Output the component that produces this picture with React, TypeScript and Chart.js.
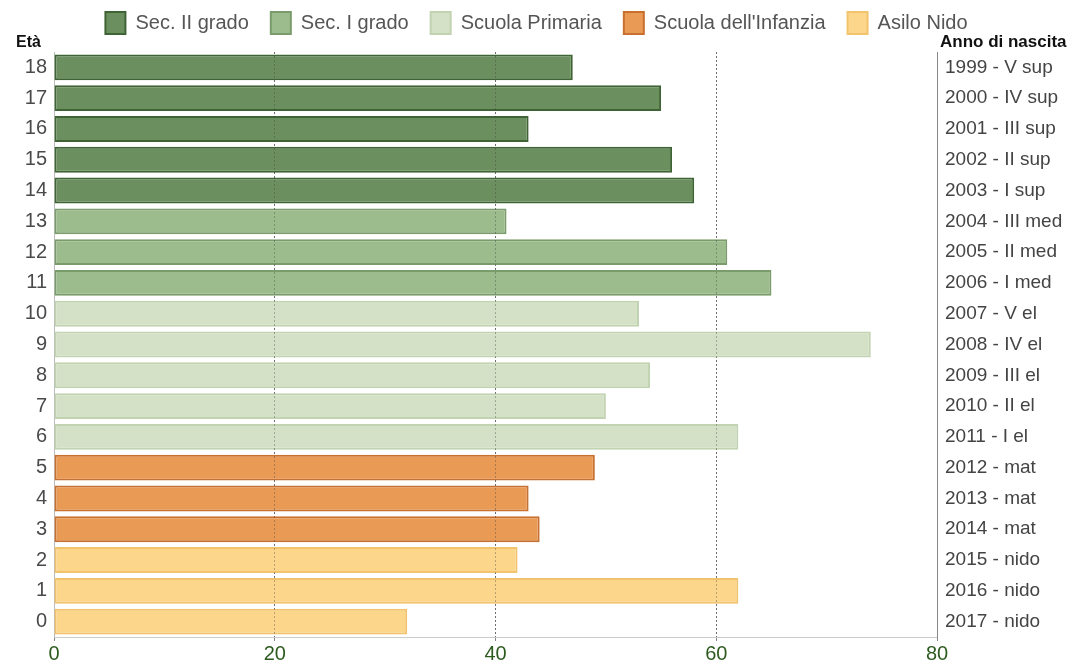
import React, { useEffect, useRef } from "react";
import { Chart, registerables } from "chart.js";

Chart.register(...registerables);

const ages = ["18", "17", "16", "15", "14", "13", "12", "11", "10", "9", "8", "7", "6", "5", "4", "3", "2", "1", "0"];
const birthLabels = [
  "1999 - V sup", "2000 - IV sup", "2001 - III sup", "2002 - II sup", "2003 - I sup",
  "2004 - III med", "2005 - II med", "2006 - I med",
  "2007 - V el", "2008 - IV el", "2009 - III el", "2010 - II el", "2011 - I el",
  "2012 - mat", "2013 - mat", "2014 - mat",
  "2015 - nido", "2016 - nido", "2017 - nido",
];
const values = [47, 55, 43, 56, 58, 41, 61, 65, 53, 74, 54, 50, 62, 49, 43, 44, 42, 62, 32];
// index into groupNames for each age row
const groupOf = [0, 0, 0, 0, 0, 1, 1, 1, 2, 2, 2, 2, 2, 3, 3, 3, 4, 4, 4];
const groupNames = ["Sec. II grado", "Sec. I grado", "Scuola Primaria", "Scuola dell'Infanzia", "Asilo Nido"];
const groupFill = ["#6c8f5f", "#9dbc8e", "#d4e1c7", "#e99a55", "#fcd68b"];
const groupBorder = ["#3e6334", "#7a9c6b", "#c2d3b2", "#c8702f", "#f1c36c"];
const xTicks = [0, 20, 40, 60, 80];

const FONT = "'Liberation Sans', Arial, sans-serif";

const titlesPlugin = {
  id: "axisTitles",
  beforeLayout(chart: any) {
    const lg = chart.legend;
    if (lg && !lg.__patched) {
      const orig = lg.fit;
      lg.fit = function (this: any) {
        orig.call(this);
        this.height = 62;
      };
      lg.__patched = true;
    }
  },
  afterDatasetsDraw(chart: any) {
    const { ctx, chartArea } = chart;
    const xs = chart.scales.x;
    ctx.save();
    ctx.strokeStyle = "rgba(60,60,60,0.35)";
    ctx.lineWidth = 1;
    ctx.setLineDash([2, 2]);
    xTicks.slice(1, -1).forEach((v) => {
      const px = Math.round(xs.getPixelForValue(v) - 0.5) + 0.5;
      ctx.beginPath();
      ctx.moveTo(px, chartArea.top);
      ctx.lineTo(px, chartArea.bottom);
      ctx.stroke();
    });
    ctx.restore();
  },
  afterDraw(chart: any) {
    const { ctx, chartArea } = chart;
    ctx.save();
    ctx.fillStyle = "#111";
    ctx.textBaseline = "alphabetic";
    ctx.font = `bold 16px ${FONT}`;
    ctx.textAlign = "left";
    ctx.fillText("Età", 16, chartArea.top - 5);
    ctx.font = `bold 17px ${FONT}`;
    ctx.fillText("Anno di nascita", chartArea.right + 3, chartArea.top - 5);
    ctx.restore();
  },
};

export default function App() {
  const ref = useRef<HTMLCanvasElement>(null);
  useEffect(() => {
    if (!ref.current) return;
    const datasets = groupNames.map((name, g) => ({
      label: name,
      data: values.map((v, i) => (groupOf[i] === g ? v : null)),
      backgroundColor: groupFill[g],
      borderColor: groupBorder[g],
      borderWidth: 2,
      borderSkipped: false,
      categoryPercentage: 0.84,
      barPercentage: 1,
      yAxisID: "y",
    }));
    const chart = new Chart(ref.current, {
      type: "bar",
      data: { labels: ages, datasets },
      plugins: [titlesPlugin],
      options: {
        indexAxis: "y",
        animation: false,
        responsive: false,
        maintainAspectRatio: false,
        layout: { padding: { top: -10, right: 0, left: 0, bottom: 0 } },
        plugins: {
          tooltip: { enabled: false },
          legend: {
            position: "top",
            labels: {
              boxWidth: 20,
              boxHeight: 22,
              padding: 22,
              color: "#555",
              font: { family: FONT, size: 20 },
            },
          },
        },
        scales: {
          x: {
            stacked: true,
            min: 0,
            max: 80,
            afterBuildTicks: (s: any) => {
              s.ticks = xTicks.map((v) => ({ value: v }));
            },
            afterFit: (s: any) => {
              s.height = 29;
            },
            ticks: { color: "#2d5a1e", font: { family: FONT, size: 20 }, padding: 1 },
            grid: { color: "#888", lineWidth: 1, tickLength: 4, drawTicks: true },
            border: { display: true, color: "#ccc", dash: [2, 2] },
          },
          y: {
            stacked: true,
            afterFit: (s: any) => {
              s.width = 54;
            },
            ticks: { color: "#4a4a4a", font: { family: FONT, size: 20 }, padding: 7 },
            grid: { display: false, drawTicks: false },
            border: { display: true, color: "#bbb" },
          },
          y2: {
            type: "category",
            position: "right",
            labels: birthLabels,
            offset: true,
            afterFit: (s: any) => {
              s.width = 136;
            },
            ticks: { color: "#444", font: { family: FONT, size: 19 }, padding: 8 },
            grid: { display: false, drawTicks: false },
            border: { display: true, color: "#888", dash: [2, 2] },
          },
        },
      } as any,
    });
    return () => chart.destroy();
  }, []);
  return (
    <div style={{ position: "absolute", left: 0, top: 0, width: 1073, height: 666, background: "#fff" }}>
      <canvas ref={ref} width={1073} height={666} style={{ width: 1073, height: 666 }} />
    </div>
  );
}
